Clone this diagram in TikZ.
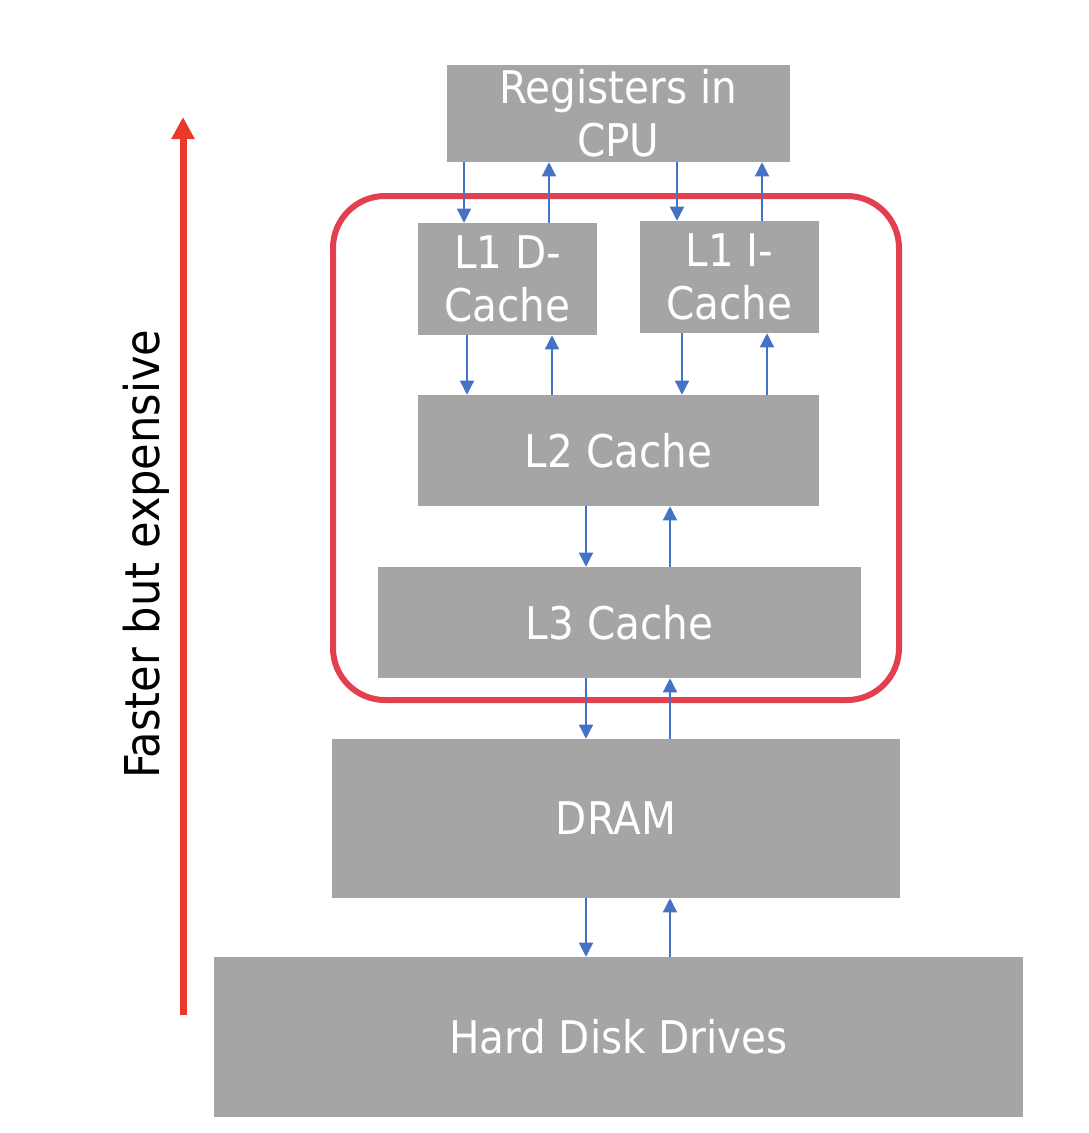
\documentclass[tikz,border=0pt]{standalone}
\usepackage{fontspec}
\setmainfont{DejaVu Sans Condensed}
\usetikzlibrary{arrows.meta}

\definecolor{boxgray}{HTML}{A5A5A5}
\definecolor{flowblue}{HTML}{4472C4}
\definecolor{framered}{HTML}{E2404F}
\definecolor{arrowred}{HTML}{E8392B}

\tikzset{
  mem/.style n args={2}{fill=boxgray, text=white, align=center, inner sep=0pt,
    minimum width=#1*0.75pt, minimum height=#2*0.75pt,
    font=\fontsize{33.75}{40}\selectfont},
  flow/.style={flowblue, line width=1pt, -{Triangle[width=10.5pt,length=10.5pt]}},
}

\begin{document}
\begin{tikzpicture}[x=0.75pt,y=-0.75pt]
  \useasboundingbox (0,0) rectangle (1089,1133);

  % levels of the hierarchy
  \node[mem={343}{97}] (reg) at (618.5,113.5) {Registers in\\CPU};
  \node[mem={179}{112}] (l1d) at (507.5,279) {L1 D-\\Cache};
  \node[mem={179}{112}] (l1i) at (729.5,277) {L1 I-\\Cache};
  \node[mem={401}{111}] (l2) at (618.5,450.5) {L2 Cache};
  \node[mem={483}{111}] (l3) at (619.5,622.5) {L3 Cache};
  \node[mem={568}{159}] (dram) at (616,818.5) {DRAM};
  \node[mem={809}{160}] (hdd) at (618.5,1037) {Hard Disk Drives};

  % caches on the chip
  \draw[framered, line width=4.5pt, rounded corners=39pt] (333,196) rectangle (899,700);

  % data moving down and up
  \foreach \a/\b/\x/\y in {reg/l1d/464/549, reg/l1i/677/762, l1d/l2/467/552, l1i/l2/682/767,
                           l2/l3/586/670, l3/dram/586/670, dram/hdd/586/670}{
    \draw[flow] (\a.south -| \x,0) -- (\b.north -| \x,0);
    \draw[flow] (\b.north -| \y,0) -- (\a.south -| \y,0);
  }

  % speed and cost
  \draw[arrowred, line width=5.25pt, -{Triangle[width=16.5pt,length=16.5pt]}] (183,1015) -- (183,117);
  \node[rotate=90, font=\fontsize{36}{40}\selectfont] (speed) at (146,554) {Faster but expensive};
\end{tikzpicture}
\end{document}
